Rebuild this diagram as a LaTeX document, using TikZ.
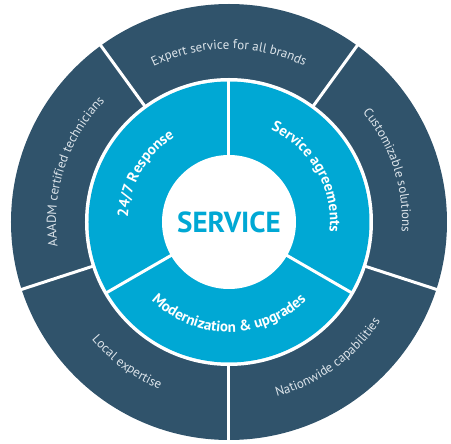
\documentclass[tikz,border=0pt]{standalone}
\usepackage{fontspec}
\setmainfont{PT Sans}
\usetikzlibrary{decorations.text}
\definecolor{svcDark}{HTML}{30536B}
\definecolor{svcCyan}{HTML}{00A8D4}
\definecolor{svcLight}{HTML}{DCE4EA}

\begin{document}
\begin{tikzpicture}[
    outerlabel/.style={
        postaction={decorate},
        decoration={text along path, text align=center,
            text={|\fontsize{13}{15}\selectfont\color{svcLight}|#1}}
    },
    innerlabel/.style={
        postaction={decorate},
        decoration={text along path, text align=center,
            text={|\fontsize{15}{17}\selectfont\bfseries\color{white}|#1}}
    },
    divider/.style={draw=white, line width=3pt},
]
\useasboundingbox (-229pt,-222pt) rectangle (222pt,222pt);

% rings
\fill[svcDark] (0,0) circle[radius=218pt];
\fill[white] (0,0) circle[radius=144pt];
\fill[svcCyan] (0,0) circle[radius=140.5pt];
\fill[white] (0,0) circle[radius=67pt];

% outer dividers
\draw[divider] (270:142pt) -- (270:220pt);
\draw[divider] (342:142pt) -- (342:220pt);
\draw[divider] (54:142pt) -- (54:220pt);
\draw[divider] (126:142pt) -- (126:220pt);
\draw[divider] (198:142pt) -- (198:220pt);

% inner dividers
\draw[divider] (90:66pt) -- (90:142pt);
\draw[divider] (210:66pt) -- (210:142pt);
\draw[divider] (330:66pt) -- (330:142pt);

% outer ring labels
\path[outerlabel={Expert service for all brands}]
    (150:173pt) arc[start angle=150, end angle=30, radius=173pt];
\path[outerlabel={Customizable solutions}]
    (78:173pt) arc[start angle=78, end angle=-42, radius=173pt];
\path[outerlabel={AAADM certified technicians}]
    (222:173pt) arc[start angle=222, end angle=102, radius=173pt];
\path[outerlabel={Nationwide capabilities}]
    (246:181pt) arc[start angle=246, end angle=366, radius=181pt];
\path[outerlabel={Local expertise}]
    (174:181pt) arc[start angle=174, end angle=294, radius=181pt];

% middle ring labels
\path[innerlabel={24/7 Response}]
    (210:101pt) arc[start angle=210, end angle=90, radius=101pt];
\path[innerlabel={Service agreements}]
    (90:101pt) arc[start angle=90, end angle=-30, radius=101pt];
\path[innerlabel={Modernization {\&} upgrades}]
    (210:110pt) arc[start angle=210, end angle=330, radius=110pt];

\node[font=\fontsize{29}{33}\selectfont\bfseries, text=svcCyan] (core) at (0,0) {SERVICE};

\end{tikzpicture}
\end{document}
